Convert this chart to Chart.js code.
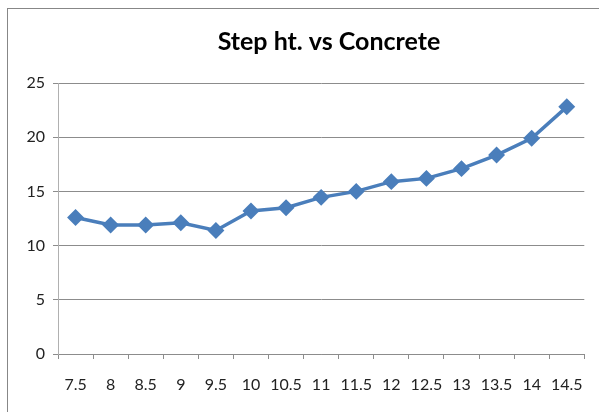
<!DOCTYPE html>
<html>
<head>
<meta charset="utf-8">
<script src="https://cdn.jsdelivr.net/npm/chart.js@4"></script>
<style>
  html, body { margin: 0; padding: 0; background: #fff; }
  #wrap { position: relative; width: 599px; height: 412px; }
</style>
</head>
<body>
<div id="wrap"><canvas id="chart" width="599" height="412"></canvas></div>
<script>
const stepHeights = ['7.5', '8', '8.5', '9', '9.5', '10', '10.5', '11', '11.5', '12', '12.5', '13', '13.5', '14', '14.5'];
const concrete = [12.6, 11.9, 11.9, 12.1, 11.4, 13.2, 13.5, 14.45, 15.0, 15.9, 16.2, 17.1, 18.35, 19.9, 22.8];
const yTicks = [0, 5, 10, 15, 20, 25];
const chartTitle = 'Step ht. vs Concrete';

const lineBlue = '#4a7ebb';
const axisGrey = '#8c8c8c';

// outer frame of the chart object (cropped at right and bottom) plus the title
const framePlugin = {
  id: 'frame',
  beforeDraw(chart) {
    const ctx = chart.ctx;
    ctx.save();
    ctx.fillStyle = '#fff';
    ctx.fillRect(0, 0, chart.width, chart.height);
    ctx.strokeStyle = '#878787';
    ctx.lineWidth = 1;
    ctx.strokeRect(7.5, 8.5, 700, 500);
    ctx.restore();
  },
  afterDraw(chart) {
    const ctx = chart.ctx;
    ctx.save();
    ctx.fillStyle = '#000';
    ctx.font = 'bold 25px Lato';
    ctx.textAlign = 'center';
    ctx.textBaseline = 'alphabetic';
    ctx.fillText(chartTitle, 329, 50);
    ctx.restore();
  }
};

new Chart(document.getElementById('chart'), {
  type: 'line',
  data: {
    labels: stepHeights,
    datasets: [{
      data: concrete,
      borderColor: lineBlue,
      backgroundColor: lineBlue,
      borderWidth: 3.5,
      pointStyle: 'rectRot',
      pointRadius: 6,
      pointHoverRadius: 6,
      tension: 0
    }]
  },
  options: {
    responsive: false,
    animation: false,
    layout: { padding: { left: 0, right: 13, top: 83, bottom: 0 } },
    plugins: {
      legend: { display: false },
      tooltip: { enabled: false },
      title: { display: false }
    },
    scales: {
      x: {
        offset: true,
        grid: { offset: true, drawOnChartArea: false, drawTicks: true, tickLength: 5, color: axisGrey },
        border: { color: axisGrey },
        ticks: { color: '#222', font: { family: 'Lato', size: 16 }, padding: 16, maxRotation: 0, autoSkip: false },
        afterFit(scale) { scale.height = 58; }
      },
      y: {
        min: 0,
        max: 25,
        afterBuildTicks(scale) { scale.ticks = yTicks.map(v => ({ value: v })); },
        grid: { color: axisGrey, tickLength: 5 },
        border: { color: '#b0b0b0' },
        ticks: { color: '#222', font: { family: 'Lato', size: 16 }, padding: 8 },
        afterFit(scale) { scale.width = 58; }
      }
    }
  },
  plugins: [framePlugin]
});
</script>
</body>
</html>
